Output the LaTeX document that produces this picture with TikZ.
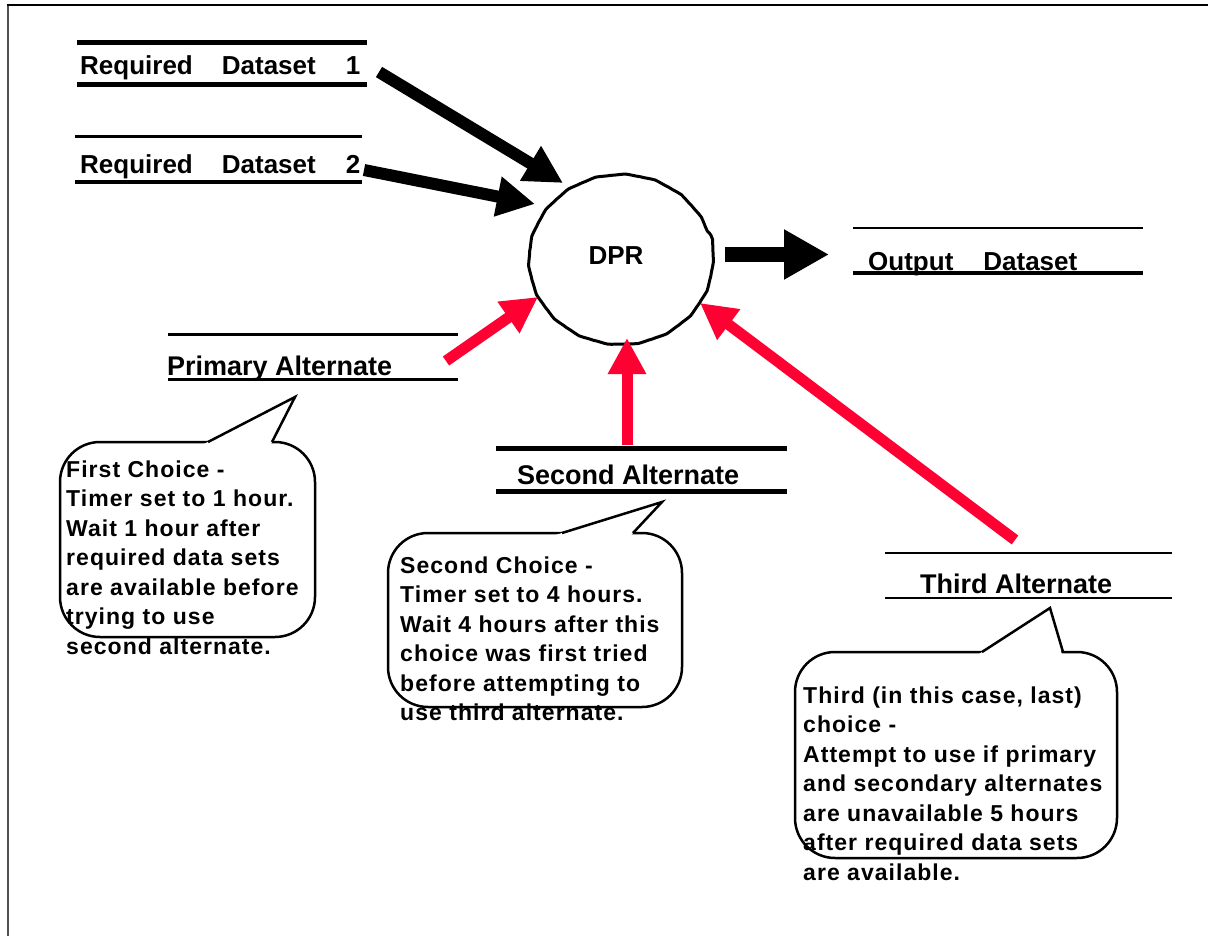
\documentclass[tikz,border=0pt]{standalone}
\usepackage{fontspec}
\setmainfont{Liberation Sans}
\newfontfamily\callfont[LetterSpace=4.5]{Liberation Sans}
\usetikzlibrary{arrows.meta,decorations.pathmorphing}
\definecolor{alertred}{RGB}{255,0,51}
\definecolor{framegray}{RGB}{80,80,80}

\begin{document}
\begin{tikzpicture}[x=1pt,y=-1pt,
  dslabel/.style={anchor=base west, inner sep=0pt, font=\bfseries\fontsize{26}{30}\selectfont},
  altlabel/.style={dslabel, font=\bfseries\fontsize{27}{30}\selectfont},
  note/.style={anchor=base west, inner sep=0pt, font=\callfont\bfseries\fontsize{23}{29.5}\selectfont},
  heavyrule/.style={line width=5pt},
  lightrule/.style={line width=2.5pt},
  flowblack/.style={line width=12pt, -{Triangle[length=38pt,width=38pt]}},
  flowred/.style={alertred, line width=11pt, -{Triangle[length=36pt,width=36pt]}},
  bubble/.style={line width=2.5pt, rounded corners=40pt, fill=white},
  tail/.style={line width=2.5pt, line join=miter},
]
\useasboundingbox (0,0) rectangle (1208,936);

% frame
\draw[framegray, line width=2pt] (7.5,5) -- (7.5,936);
\draw[black, line width=2pt] (7,5) -- (1208,5);

% data stores
\draw[heavyrule] (77,43) -- (367,43);
\draw[heavyrule] (77,85) -- (367,85);
\node[dslabel] (req1) at (80,75) {Required\hspace{29pt}Dataset\hspace{30pt}1};

\draw[line width=3pt] (75,137) -- (362,137);
\draw[line width=4pt] (75,182) -- (362,182);
\node[dslabel] (req2) at (80,174) {Required\hspace{29pt}Dataset\hspace{30pt}2};

\draw[lightrule] (853,228) -- (1143,228);
\draw[line width=4pt] (853,273) -- (1143,273);
\node[dslabel] (out) at (868,270) {Output\hspace{30pt}Dataset};

\draw[line width=3pt] (168,334) -- (458,334);
\draw[line width=3pt] (168,379) -- (458,379);
\node[altlabel] (alt1) at (167,375) {Primary Alternate};

\draw[heavyrule] (496,448) -- (787,448);
\draw[heavyrule] (496,491) -- (787,491);
\node[altlabel] (alt2) at (517,484) {Second Alternate};

\draw[lightrule] (885,553) -- (1172,553);
\draw[lightrule] (885,598) -- (1172,598);
\node[altlabel] (alt3) at (920,593) {Third Alternate};

% process
\coordinate (dpr) at (621,252);
\draw[line width=3pt, decorate, decoration={snake, amplitude=0.45pt, segment length=30pt}]
  (dpr) ellipse (92 and 85);
\node[dslabel, anchor=base] (dprlabel) at (616,265) {DPR};

% flows
\coordinate (f1s) at (379,72);   \coordinate (f1e) at (563,183);
\coordinate (f2s) at (364,170);  \coordinate (f2e) at (535,204);
\coordinate (fos) at (725,254.5); \coordinate (foe) at (829,254.5);
\coordinate (r1s) at (446,361);  \coordinate (r1e) at (538,297);
\coordinate (r2s) at (627,445);  \coordinate (r2e) at (627,338);
\coordinate (r3s) at (1015,540); \coordinate (r3e) at (700,303);

\draw[flowblack] (f1s) -- (f1e);
\draw[flowblack] (f2s) -- (f2e);
\draw[line width=15pt, -{Triangle[length=45pt,width=47pt]}] (fos) -- (foe);
\draw[flowred] (r1s) -- (r1e);
\draw[flowred] (r2s) -- (r2e);
\draw[flowred] (r3s) -- (r3e);

% callouts
\draw[bubble] (60,442) rectangle (315,637);
\fill[white] (202,445) -- (295,397) -- (270.5,445) -- cycle;
\draw[tail] (208,442) -- (295,397) -- (272,442);

\draw[bubble] (388,533) rectangle (682,707);
\fill[white] (552.3,536) -- (662,502) -- (630.2,536) -- cycle;
\draw[tail] (562,533) -- (662,502) -- (633,533);

\draw[bubble] (795,652) rectangle (1117,858);
\fill[white] (977.4,655) -- (1050,608) -- (1062.1,655) -- cycle;
\draw[tail] (982,652) -- (1050,608) -- (1063,652);

\node[note] (note1) at (66,477) {\begin{tabular}[t]{@{}l@{}}
First Choice -\\
Timer set to 1 hour.\\
Wait 1 hour after\\
required data sets\\
are available before\\
trying to use\\
second alternate.
\end{tabular}};

\node[note] (note2) at (400,573) {\begin{tabular}[t]{@{}l@{}}
Second Choice -\\
Timer set to 4 hours.\\
Wait 4 hours after this\\
choice was first tried\\
before attempting to\\
use third alternate.
\end{tabular}};

\node[note] (note3) at (803,703) {\begin{tabular}[t]{@{}l@{}}
Third (in this case, last)\\
choice -\\
Attempt to use if primary\\
and secondary alternates\\
are unavailable 5 hours\\
after required data sets\\
are available.
\end{tabular}};
\end{tikzpicture}
\end{document}
